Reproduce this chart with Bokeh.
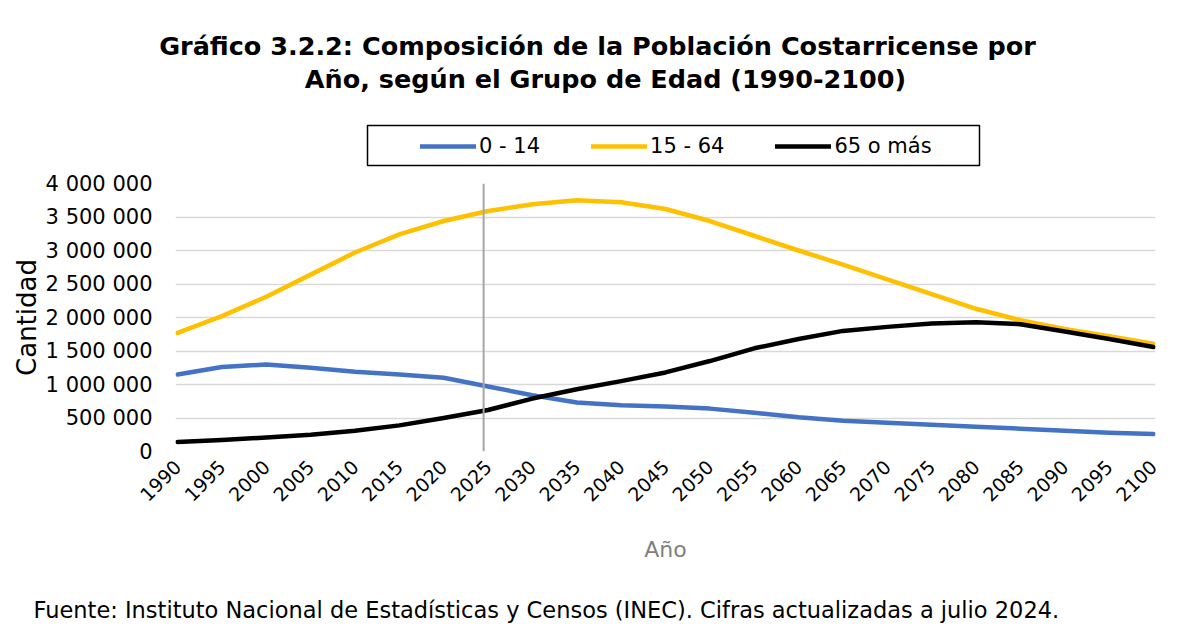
import math
from bokeh.plotting import figure
from bokeh.layouts import column
from bokeh.models import Range1d, FixedTicker, Label, Legend, LegendItem, Span, BoxAnnotation
from bokeh.embed import file_html
from bokeh.resources import INLINE

# ---- data ----
years = [1990, 1995, 2000, 2005, 2010, 2015, 2020, 2025, 2030, 2035, 2040, 2045,
         2050, 2055, 2060, 2065, 2070, 2075, 2080, 2085, 2090, 2095, 2100]
pop_0_14 = [1150000, 1260000, 1300000, 1250000, 1190000, 1150000, 1100000, 970000,
            840000, 730000, 690000, 670000, 640000, 580000, 510000, 460000, 430000,
            400000, 370000, 340000, 310000, 280000, 260000]
pop_15_64 = [1770000, 2020000, 2310000, 2640000, 2970000, 3240000, 3440000, 3590000,
             3690000, 3750000, 3720000, 3620000, 3440000, 3220000, 3000000, 2790000,
             2570000, 2350000, 2130000, 1960000, 1830000, 1720000, 1610000]
pop_65 = [140000, 170000, 210000, 250000, 310000, 390000, 500000, 620000, 790000,
          930000, 1050000, 1180000, 1350000, 1540000, 1680000, 1800000, 1860000,
          1910000, 1930000, 1900000, 1790000, 1680000, 1560000]
series = [pop_0_14, pop_15_64, pop_65]
series_names = ["0 - 14", "15 - 64", "65 o más"]
series_colors = ["#4472C4", "#FFC000", "#000000"]
y_ticks = [0, 500000, 1000000, 1500000, 2000000, 2500000, 3000000, 3500000, 4000000]
y_tick_labels = ["0", "500 000", "1 000 000", "1 500 000", "2 000 000",
                 "2 500 000", "3 000 000", "3 500 000", "4 000 000"]
x_ticks = years
REF_YEAR = 2024.5

title_1 = "Gráfico 3.2.2: Composición de la Población Costarricense por"
title_2 = "Año, según el Grupo de Edad (1990-2100)"
source_text = "Fuente: Instituto Nacional de Estadísticas y Censos (INEC). Cifras actualizadas a julio 2024."

FONT = "DejaVu Sans"
W = 1177
TOP_H = 168
MAIN_H = 412
BOT_H = 48
LINE_W = 4.5


def no_align(f):
    try:
        f.frame_align = False
    except Exception:
        pass


def bare_figure(h):
    f = figure(width=W, height=h, output_backend="svg", toolbar_location=None,
               x_range=Range1d(0, 1), y_range=Range1d(0, 1),
               x_axis_location=None, y_axis_location=None,
               min_border=0, min_border_left=0, min_border_right=0,
               min_border_top=0, min_border_bottom=0)
    f.outline_line_color = None
    f.grid.visible = False
    f.background_fill_color = "white"
    f.border_fill_color = "white"
    no_align(f)
    return f


# ---- top: title and legend ----
top = bare_figure(TOP_H)
for txt, xx, yy in [(title_1, 597, 123), (title_2, 605, 90)]:
    top.add_layout(Label(x=xx, y=yy, x_units="screen", y_units="screen", text=txt,
                         text_align="center", text_baseline="alphabetic",
                         text_font=FONT, text_font_style="bold", text_font_size="25.5px",
                         text_color="#000000"))

# legend proxies (same series, outside this strip's ranges, only their legend glyphs show)
proxies = [top.line(x=years, y=vals, line_color=c, line_width=LINE_W, line_cap="round")
           for vals, c in zip(series, series_colors)]
legend = Legend(items=[LegendItem(label=n, renderers=[r]) for n, r in zip(series_names, proxies)],
                orientation="horizontal", location=(420, 10), padding=0, spacing=51,
                label_standoff=3, glyph_width=56, glyph_height=20, label_height=20,
                border_line_color=None, background_fill_alpha=0, margin=0,
                label_text_font=FONT, label_text_font_size="21px", label_text_color="#000000")
top.add_layout(legend)
top.add_layout(BoxAnnotation(left=367, right=979, top=43, bottom=3,
                             left_units="screen", right_units="screen",
                             top_units="screen", bottom_units="screen",
                             fill_alpha=0, line_color="#000000", line_alpha=1.0,
                             line_width=1.5))

# ---- main chart ----
p = figure(width=W, height=MAIN_H, output_backend="svg", toolbar_location=None,
           x_range=Range1d(1989.77, 2100.23), y_range=Range1d(0, 4000000),
           min_border_left=175, min_border_right=22, min_border_top=15,
           min_border_bottom=129)
no_align(p)
p.outline_line_color = None
p.background_fill_color = "white"
p.border_fill_color = "white"

p.xgrid.grid_line_color = None
p.ygrid.ticker = FixedTicker(ticks=y_ticks)
p.ygrid.grid_line_color = "#d9d9d9"
p.ygrid.grid_line_width = 1.5

xa = p.xaxis[0]
xa.ticker = FixedTicker(ticks=x_ticks)
xa.major_label_orientation = math.pi / 4
xa.major_label_standoff = 6
xa.axis_line_color = None
xa.major_tick_line_color = None
xa.minor_tick_line_color = None
xa.major_label_text_font = FONT
xa.major_label_text_font_size = "19px"
xa.major_label_text_color = "#000000"
xa.axis_label = "Año"
xa.axis_label_text_font = FONT
xa.axis_label_text_font_style = "normal"
xa.axis_label_text_font_size = "22px"
xa.axis_label_text_color = "#7f7f7f"
xa.axis_label_standoff = 26

ya = p.yaxis[0]
ya.ticker = FixedTicker(ticks=y_ticks)
ya.major_label_overrides = {t: l for t, l in zip(y_ticks, y_tick_labels)}
ya.axis_line_color = None
ya.major_tick_line_color = None
ya.minor_tick_line_color = None
ya.major_tick_out = 0
ya.major_label_standoff = 23
ya.major_label_text_font = FONT
ya.major_label_text_font_size = "21px"
ya.major_label_text_color = "#000000"
ya.axis_label = "Cantidad"
ya.axis_label_text_font = FONT
ya.axis_label_text_font_style = "normal"
ya.axis_label_text_font_size = "26px"
ya.axis_label_text_color = "#000000"
ya.axis_label_standoff = 1

for vals, col in zip(series, series_colors):
    p.line(years, vals, line_color=col, line_width=LINE_W, line_cap="round", line_join="round")

p.add_layout(Span(location=REF_YEAR, dimension="height", line_color="#a6a6a6", line_width=2))

# ---- bottom: source ----
bot = bare_figure(BOT_H)
bot.add_layout(Label(x=33, y=19, x_units="screen", y_units="screen", text=source_text,
                     text_align="left", text_baseline="alphabetic",
                     text_font=FONT, text_font_size="22.5px", text_color="#000000"))

layout = column(top, p, bot, spacing=0)
open("out.html", "w").write(file_html(layout, INLINE))
